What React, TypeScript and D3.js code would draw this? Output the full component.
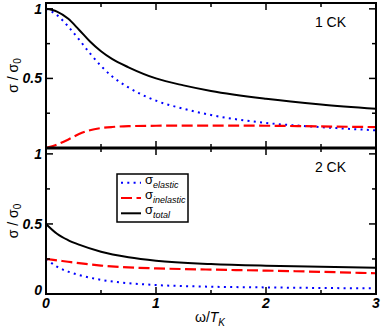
import React from 'react';
import * as d3 from 'd3';

// omega / T_K sample points, 1 CK panel
const omega1 = [0, 0.1, 0.2, 0.3, 0.4, 0.5, 0.6, 0.75, 1.0, 1.25, 1.5, 2.0, 2.5, 3.0];
const total1 = [1.0, 0.98, 0.93, 0.85, 0.765, 0.695, 0.64, 0.58, 0.5, 0.45, 0.41, 0.354, 0.313, 0.282];
const elastic1 = [1.0, 0.955, 0.875, 0.78, 0.68, 0.59, 0.515, 0.435, 0.34, 0.282, 0.237, 0.18, 0.15, 0.127];
const inelastic1 = [0.0, 0.025, 0.06, 0.1, 0.128, 0.143, 0.151, 0.157, 0.16, 0.161, 0.161, 0.16, 0.155, 0.15];

// 2 CK panel
const omega2 = [0, 0.1, 0.2, 0.3, 0.5, 0.75, 1.0, 1.5, 2.0, 2.5, 3.0];
const total2 = [0.5, 0.43, 0.385, 0.352, 0.302, 0.263, 0.238, 0.214, 0.202, 0.195, 0.188];
const elastic2 = [0.25, 0.195, 0.16, 0.136, 0.101, 0.077, 0.064, 0.052, 0.047, 0.043, 0.04];
const inelastic2 = [0.25, 0.24, 0.23, 0.22, 0.203, 0.19, 0.183, 0.174, 0.167, 0.158, 0.148];

const xMajor = [0, 1, 2, 3];
const xMinor = [0.5, 1.5, 2.5];
const yMajor = [0, 0.5, 1];
const yMinor = [0.25, 0.75];

const panelLabels = ['1 CK', '2 CK'];

const left = 46, right = 376;
const panels = [
  { top: 3, bottom: 148, omega: omega1, total: total1, elastic: elastic1, inelastic: inelastic1, yLabels: [0.5, 1] },
  { top: 148, bottom: 294, omega: omega2, total: total2, elastic: elastic2, inelastic: inelastic2, yLabels: [0, 0.5, 1] },
];

const tickFont = { fontFamily: 'Liberation Sans, Arial, sans-serif', fontWeight: 'bold', fontStyle: 'italic', fontSize: 14 } as const;
const plainFont = { fontFamily: 'Liberation Sans, Arial, sans-serif', fontSize: 14 } as const;

export default function App() {
  const x = d3.scaleLinear().domain([0, 3]).range([left, right]);

  return (
    <svg width={382} height={330} style={{ position: 'absolute', left: 0, top: 0, background: '#fff' }}>
      {panels.map((p, i) => {
        const y = d3.scaleLinear().domain([0, 1.042]).range([p.bottom, p.top]);
        const line = (vals: number[]) =>
          d3.line<number>()
            .x((_, k) => x(p.omega[k]))
            .y(d => y(d))
            .curve(d3.curveMonotoneX)(vals) || '';
        return (
          <g key={i}>
            <path d={line(p.elastic)} fill="none" stroke="#0000ff" strokeWidth={2} strokeDasharray="2 4.3" />
            <path d={line(p.inelastic)} fill="none" stroke="#ff0000" strokeWidth={2.2} strokeDasharray="11 4.5" />
            <path d={line(p.total)} fill="none" stroke="#000" strokeWidth={2} />
            <rect x={left} y={p.top} width={right - left} height={p.bottom - p.top} fill="none" stroke="#000" strokeWidth={2} />
            {xMajor.concat(xMinor).map(t => {
              const len = xMajor.includes(t) ? 7 : 4;
              return (
                <g key={'x' + t}>
                  <line x1={x(t)} x2={x(t)} y1={p.bottom} y2={p.bottom - len} stroke="#000" strokeWidth={1.5} />
                  <line x1={x(t)} x2={x(t)} y1={p.top} y2={p.top + len} stroke="#000" strokeWidth={1.5} />
                </g>
              );
            })}
            {yMajor.concat(yMinor).map(t => {
              const len = yMajor.includes(t) ? 7 : 4;
              return (
                <g key={'y' + t}>
                  <line x1={left} x2={left + len} y1={y(t)} y2={y(t)} stroke="#000" strokeWidth={1.5} />
                  <line x1={right} x2={right - len} y1={y(t)} y2={y(t)} stroke="#000" strokeWidth={1.5} />
                </g>
              );
            })}
            {p.yLabels.map(t => (
              <text key={'yl' + t} x={left - 4} y={y(t) + (t === 0 ? 1 : 5)} textAnchor="end" style={tickFont}>
                {t}
              </text>
            ))}
            <text x={346} y={p.top + 24} textAnchor="end" style={plainFont}>{panelLabels[i]}</text>
            <text
              transform={`translate(18,${(p.top + p.bottom) / 2}) rotate(-90)`}
              textAnchor="middle"
              style={plainFont}
            >
              σ / σ<tspan fontSize={10} dy={3}>0</tspan>
            </text>
          </g>
        );
      })}
      <line x1={left} x2={right} y1={148} y2={148} stroke="#000" strokeWidth={3} />
      {xMajor.map(t => (
        <text key={'xl' + t} x={x(t)} y={308} textAnchor="middle" style={tickFont}>{t}</text>
      ))}
      <text x={210} y={322} textAnchor="middle" style={plainFont}>
        ω/<tspan fontStyle="italic">T</tspan><tspan fontStyle="italic" fontSize={10} dy={4}>K</tspan>
      </text>
      <g>
        <rect x={117} y={174} width={71} height={48} fill="#fff" stroke="#000" strokeWidth={1.5} />
        {[
          { sub: 'elastic', color: '#0000ff', dash: '2 4.3' },
          { sub: 'inelastic', color: '#ff0000', dash: '11 4.5' },
          { sub: 'total', color: '#000', dash: 'none' },
        ].map((e, k) => {
          const ly = 182.7 + k * 15.3;
          return (
            <g key={e.sub}>
              <line x1={121} x2={141} y1={ly} y2={ly} stroke={e.color} strokeWidth={2} strokeDasharray={e.dash} />
              <text x={145} y={ly + 1} style={{ fontFamily: 'Liberation Sans, Arial, sans-serif', fontSize: 13 }}>
                σ<tspan fontStyle="italic" fontSize={9} dy={4}>{e.sub}</tspan>
              </text>
            </g>
          );
        })}
      </g>
    </svg>
  );
}
